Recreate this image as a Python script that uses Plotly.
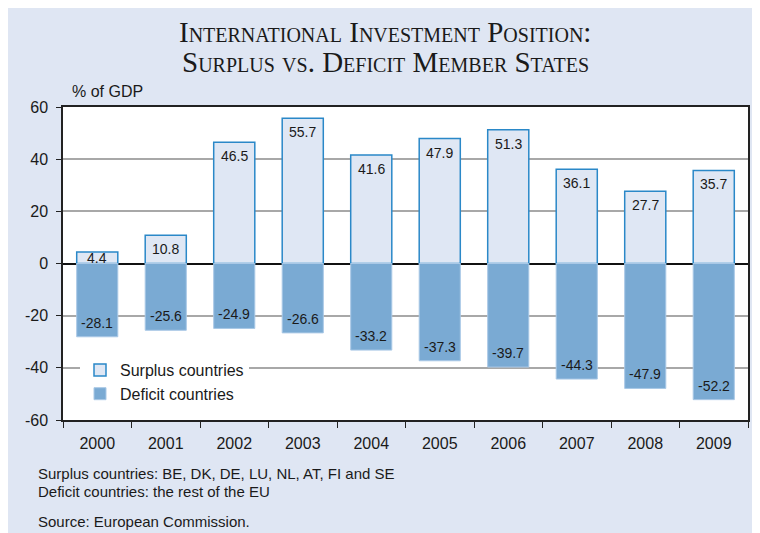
import plotly.graph_objects as go

years = ["2000", "2001", "2002", "2003", "2004", "2005", "2006", "2007", "2008", "2009"]
surplus = [4.4, 10.8, 46.5, 55.7, 41.6, 47.9, 51.3, 36.1, 27.7, 35.7]
deficit = [-28.1, -25.6, -24.9, -26.6, -33.2, -37.3, -39.7, -44.3, -47.9, -52.2]
y_ticks = [-60, -40, -20, 0, 20, 40, 60]

BG = "#dfe6f3"
SURPLUS_FILL = "#dfe7f4"
SURPLUS_LINE = "#2a88c8"
DEFICIT_FILL = "#7aaad3"
FONT = "Liberation Sans, Arial, sans-serif"

fig = go.Figure()

fig.add_trace(go.Bar(
    x=years, y=surplus, name="Surplus countries",
    marker=dict(color=SURPLUS_FILL, line=dict(color=SURPLUS_LINE, width=1.5)),
))
fig.add_trace(go.Bar(
    x=years, y=deficit, name="Deficit countries",
    marker=dict(color=DEFICIT_FILL, line=dict(color="#a9c8e6", width=1)),
))

# pixels per unit on the y axis (plot height 313 px for 120 units)
ppu = 313 / 120

annotations = []
for i, v in enumerate(surplus):
    shift = min(14, v * ppu / 2)
    annotations.append(dict(x=i, y=v, text=f"{v}", showarrow=False, yshift=-shift,
                            font=dict(size=14, color="#1a1a1a", family=FONT)))
for i, v in enumerate(deficit):
    annotations.append(dict(x=i, y=v, text=f"{v}", showarrow=False, yshift=14,
                            font=dict(size=14, color="#1a1a1a", family=FONT)))

# helpers: reference pixel -> paper coords (plot area spans x 63..748, y 107..420)
def px(x):
    return (x - 63) / 685

def py(y):
    return (420 - y) / 313

annotations.append(dict(xref="paper", yref="paper", x=px(70), y=py(92),
                        xanchor="left", yanchor="middle", text="% of GDP", showarrow=False,
                        font=dict(size=16, color="#1a1a1a", family=FONT)))

foot = [("Surplus countries: BE, DK, DE, LU, NL, AT, FI and SE", 473),
        ("Deficit countries: the rest of the EU", 492),
        ("Source: European Commission.", 521)]
for t, yy in foot:
    annotations.append(dict(xref="paper", yref="paper", x=px(36), y=py(yy),
                            xanchor="left", yanchor="middle", text=t, showarrow=False,
                            font=dict(size=15, color="#1a1a1a", family=FONT)))

title_font = dict(size=29, color="#1a1a1a", family="Liberation Serif, Times New Roman, serif",
                  variant="small-caps")
for t, yy in [("International Investment Position:", 32), ("Surplus vs. Deficit Member States", 62)]:
    annotations.append(dict(xref="paper", yref="paper", x=px(385), y=py(yy),
                            xanchor="center", yanchor="middle", text=t, showarrow=False,
                            font=title_font))

fig.update_layout(
    width=760, height=525,
    margin=dict(l=55, r=20, t=99, b=113),
    paper_bgcolor=BG, plot_bgcolor="white",
    barmode="relative", bargap=0.4,
    font=dict(family=FONT, size=16, color="#1a1a1a"),
    showlegend=True,
    legend=dict(x=px(80), y=py(353), xanchor="left", yanchor="top",
                bgcolor="white", borderwidth=0, font=dict(size=16, family=FONT),
                traceorder="normal"),
    xaxis=dict(type="category", range=[-0.5, len(years) - 0.5],
               showline=True, linecolor="#222222", linewidth=1.5, mirror=True,
               ticks="outside", ticklen=6, tickcolor="#222222", tickson="boundaries",
               ticklabelstandoff=8,
               showgrid=False, tickfont=dict(size=16)),
    yaxis=dict(range=[-60, 60], tickvals=y_ticks, ticktext=[str(t) for t in y_ticks],
               showline=True, linecolor="#222222", linewidth=1.5,
               mirror=True, ticks="outside", ticklen=5, tickcolor="#222222",
               ticklabelstandoff=5,
               showgrid=True, gridcolor="#a8a8a8", gridwidth=1.5,
               zeroline=True, zerolinecolor="#111111", zerolinewidth=1.5,
               tickfont=dict(size=16)),
    annotations=annotations,
)

fig.write_html("out.html")
